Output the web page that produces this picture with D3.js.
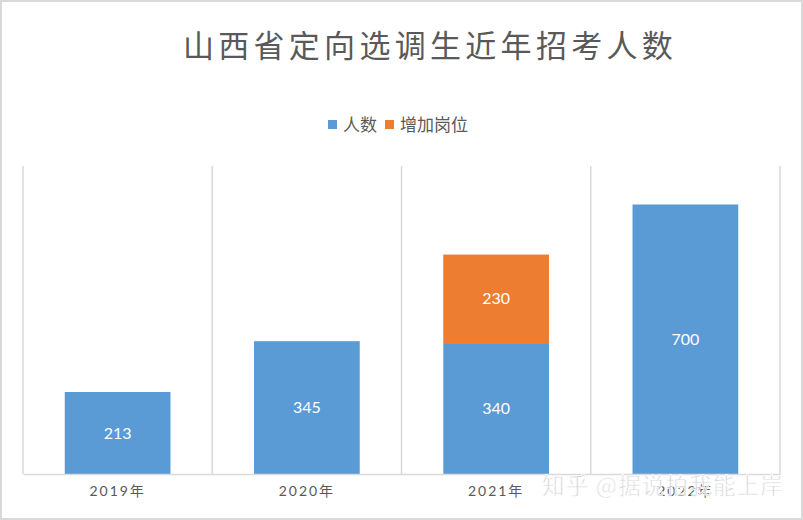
<!DOCTYPE html>
<html>
<head>
<meta charset="utf-8">
<script src="https://cdn.jsdelivr.net/npm/d3@7"></script>
<style>
  body { margin: 0; background: #fff; }
  text { font-family: Lato, "Noto Sans CJK SC", sans-serif; }
</style>
</head>
<body>
<script>
// Chart data
var years = ["2019年", "2020年", "2021年", "2022年"];
var people = [213, 345, 340, 700];
var extraPosts = [0, 0, 230, 0];
var seriesNames = ["人数", "增加岗位"];
var colors = ["#5b9bd5", "#ed7d31"];

var svgWidth = 803;
var svgHeight = 520;

var margin = { top: 166, right: 23, bottom: 46, left: 23 };
var chartWidth = svgWidth - margin.left - margin.right;
var chartHeight = svgHeight - margin.top - margin.bottom;

var svg = d3.select("body")
  .append("svg")
  .attr("width", svgWidth)
  .attr("height", svgHeight);

// outer frame
svg.append("rect")
  .attr("x", 1)
  .attr("y", 1)
  .attr("width", svgWidth - 2)
  .attr("height", svgHeight - 2)
  .attr("fill", "#fff")
  .attr("stroke", "#d9d9d9")
  .attr("stroke-width", 2);

var chartGroup = svg.append("g")
  .attr("transform", `translate(${margin.left}, ${margin.top})`);

var xBand = d3.scaleBand()
  .domain(years)
  .range([0, chartWidth])
  .padding(0);

var barWidth = xBand.bandwidth() / 1.79;

var yLinearScale = d3.scaleLinear()
  .domain([0, 800])
  .range([chartHeight, 0]);

// vertical gridlines between categories
var gridX = years.map(d => xBand(d)).concat([chartWidth]);
chartGroup.selectAll(".grid")
  .data(gridX)
  .enter()
  .append("line")
  .attr("x1", d => d)
  .attr("x2", d => d)
  .attr("y1", 0)
  .attr("y2", chartHeight)
  .attr("stroke", "#d9d9d9")
  .attr("stroke-width", 1.5);

// stack the two series
var rows = years.map((y, i) => ({ year: y, a: people[i], b: extraPosts[i] }));
var stack = d3.stack().keys(["a", "b"])(rows);

stack.forEach(function(layer, li) {
  var g = chartGroup.append("g");
  var segs = layer.filter(d => d[1] - d[0] > 0);

  g.selectAll("rect")
    .data(segs)
    .enter()
    .append("rect")
    .attr("x", d => xBand(d.data.year) + (xBand.bandwidth() - barWidth) / 2)
    .attr("y", d => yLinearScale(d[1]))
    .attr("width", barWidth)
    .attr("height", d => yLinearScale(d[0]) - yLinearScale(d[1]))
    .attr("fill", colors[li]);

  g.selectAll("text")
    .data(segs)
    .enter()
    .append("text")
    .attr("x", d => xBand(d.data.year) + xBand.bandwidth() / 2)
    .attr("y", d => (yLinearScale(d[0]) + yLinearScale(d[1])) / 2)
    .attr("dy", "0.35em")
    .attr("text-anchor", "middle")
    .attr("fill", "#fff")
    .attr("font-size", 16)
    .text(d => d[1] - d[0]);
});

// bottom axis
var bottomAxis = d3.axisBottom(xBand).tickSize(0).tickPadding(12);
var axisG = chartGroup.append("g")
  .attr("transform", `translate(0, ${chartHeight})`)
  .call(bottomAxis);
axisG.select(".domain").attr("stroke", "#d9d9d9").attr("stroke-width", 1.5);
axisG.selectAll("text")
  .attr("font-size", 14)
  .attr("fill", "#595959")
  .attr("letter-spacing", 2)
  .style("font-family", 'Lato, "Noto Sans CJK SC", sans-serif');

// title
svg.append("text")
  .attr("x", 430)
  .attr("y", 57)
  .attr("text-anchor", "middle")
  .attr("font-size", 31)
  .attr("letter-spacing", 4.3)
  .attr("fill", "#595959")
  .style("font-family", '"Noto Sans CJK SC", sans-serif')
  .text("山西省定向选调生近年招考人数");

// legend
var legendX = [328, 385];
var legend = svg.append("g");
seriesNames.forEach(function(name, i) {
  legend.append("rect")
    .attr("x", legendX[i])
    .attr("y", 120)
    .attr("width", 9)
    .attr("height", 9)
    .attr("fill", colors[i]);
  legend.append("text")
    .attr("x", legendX[i] + 15)
    .attr("y", 125)
    .attr("dy", "0.35em")
    .attr("font-size", 17)
    .attr("fill", "#595959")
    .style("font-family", '"Noto Sans CJK SC", sans-serif')
    .text(name);
});

// watermark
svg.append("text")
  .attr("x", 542)
  .attr("y", 494)
  .attr("font-size", 22.5)
  .attr("letter-spacing", 1.2)
  .attr("fill", "#c8c8c8")
  .attr("stroke", "#fff")
  .attr("stroke-width", 0.8)
  .attr("opacity", 0.9)
  .style("font-family", '"Noto Sans CJK SC", sans-serif')
  .text("知乎 @据说拍我能上岸");
</script>
</body>
</html>
